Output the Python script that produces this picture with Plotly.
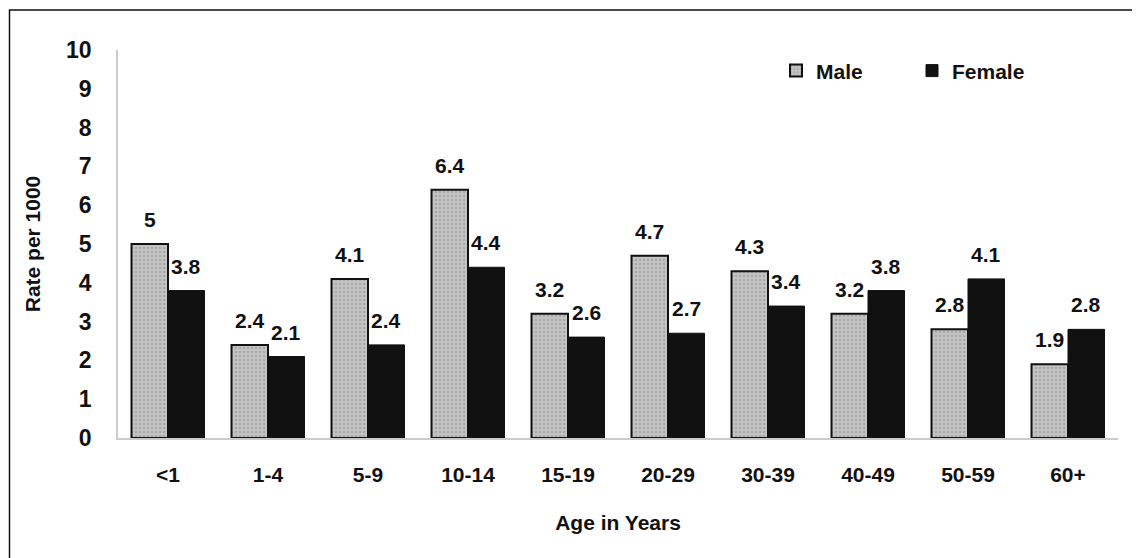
import plotly.graph_objects as go

categories = ["<1", "1-4", "5-9", "10-14", "15-19", "20-29", "30-39", "40-49", "50-59", "60+"]
male = [5, 2.4, 4.1, 6.4, 3.2, 4.7, 4.3, 3.2, 2.8, 1.9]
female = [3.8, 2.1, 2.4, 4.4, 2.6, 2.7, 3.4, 3.8, 4.1, 2.8]
y_ticks = list(range(0, 11))

FONT = "Liberation Sans, Arial, sans-serif"
INK = "#111111"
BARGAP = 0.27
PLOT_W = 1000  # px of the plot area
half_bar_px = PLOT_W / len(categories) * (1 - BARGAP) / 4

fig = go.Figure()
fig.add_trace(go.Bar(
    x=categories, y=male, name="Male",
    marker=dict(color="#bdbdbd", line=dict(color=INK, width=2),
                pattern=dict(shape=".", fgcolor="#8a8a8a", bgcolor="#c4c4c4", size=4, solidity=0.3)),
))
fig.add_trace(go.Bar(
    x=categories, y=female, name="Female",
    marker=dict(color=INK, line=dict(color=INK, width=1)),
))

annotations = []
for series, sign in ((male, -1), (female, 1)):
    for c, v in zip(categories, series):
        annotations.append(dict(
            x=c, y=v, xref="x", yref="y", text=f"{v:g}", showarrow=False,
            xanchor="center", yanchor="bottom", xshift=sign * half_bar_px, yshift=11,
            font=dict(family=FONT, size=21, color=INK, weight="bold"),
        ))

fig.update_layout(
    width=1140, height=558,
    margin=dict(l=110, r=30, t=42, b=128, autoexpand=False),
    paper_bgcolor="white", plot_bgcolor="white",
    barmode="group", bargap=BARGAP, bargroupgap=0,
    font=dict(family=FONT, color=INK),
    showlegend=True,
    legend=dict(orientation="h", x=0.658, y=0.946, xanchor="left", yanchor="middle",
                font=dict(family=FONT, size=21, color=INK, weight="bold"),
                entrywidth=91, entrywidthmode="pixels", bgcolor="rgba(0,0,0,0)",
                itemwidth=30),
    xaxis=dict(showline=True, linecolor="#cccccc", linewidth=1.5, ticks="",
               ticklabelstandoff=17,
               tickfont=dict(family=FONT, size=21, color=INK, weight="bold"),
               title=dict(text="Age in Years", standoff=30,
                          font=dict(family=FONT, size=21, color=INK, weight="bold"))),
    yaxis=dict(range=[0, 10], tickvals=y_ticks, showgrid=False, zeroline=False,
               showline=True, linecolor="#cccccc", linewidth=1.5, ticks="",
               ticklabelstandoff=20,
               tickfont=dict(family=FONT, size=23, color=INK, weight="bold"),
               title=dict(text="Rate per 1000", standoff=20,
                          font=dict(family=FONT, size=21, color=INK, weight="bold"))),
    annotations=annotations,
    shapes=[dict(type="rect", xref="paper", yref="paper",
                 x0=-0.1085, x1=1.06, y0=-0.5, y1=1.103,
                 line=dict(color=INK, width=1.5), fillcolor="rgba(0,0,0,0)")],
)

fig.write_html("out.html")
